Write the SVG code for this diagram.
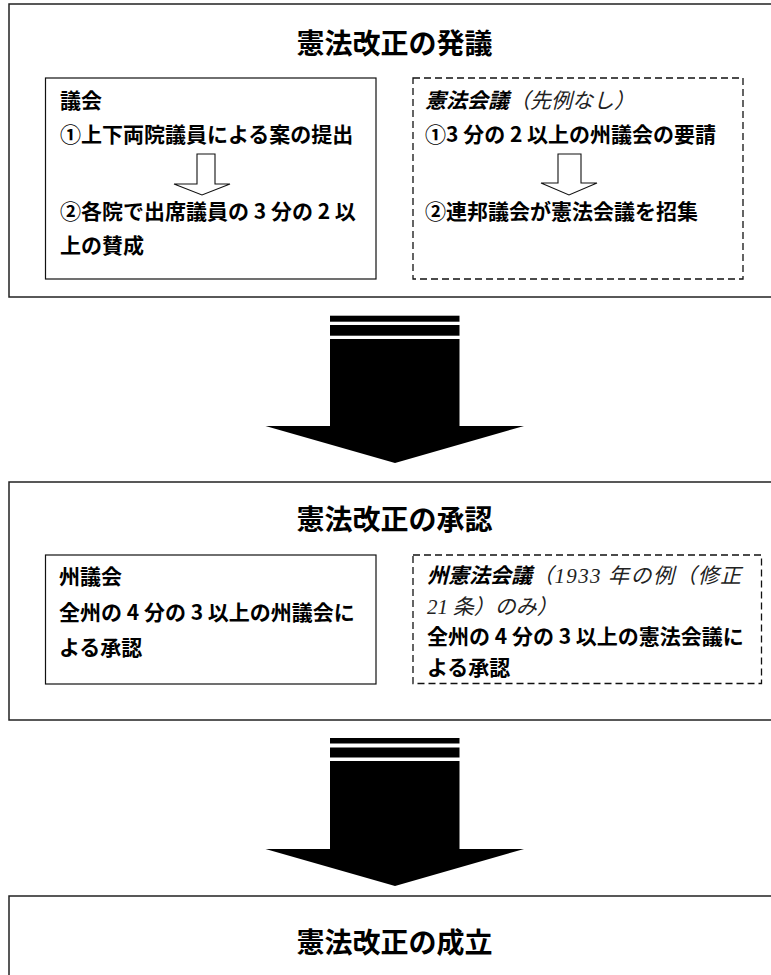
<svg xmlns="http://www.w3.org/2000/svg" width="771" height="975" viewBox="0 0 771 975">
<style>
.outer{fill:#fff;stroke:#222;stroke-width:1.5}
.inner{fill:#fff;stroke:#111;stroke-width:1.2}
.dash{fill:#fff;stroke:#111;stroke-width:1.3;stroke-dasharray:7 4}
.title{font-family:"Noto Sans CJK JP","Noto Sans CJK SC",sans-serif;font-size:28px;font-weight:bold;fill:#000;text-anchor:middle}
.body{font-family:"Noto Sans CJK JP","Noto Sans CJK SC",sans-serif;font-size:21px;font-weight:bold;fill:#000}
.it{font-style:italic;font-weight:normal;fill:#222}
.serif{font-family:"Liberation Serif","Noto Sans CJK JP",serif}
.hollow{fill:#fff;stroke:#111;stroke-width:1.1}
.big{fill:#000}
</style>
<g id="box-propose">
<rect class="outer" x="9" y="4" width="790" height="293"/>
<text class="title" x="394.5" y="54">憲法改正の発議</text>
</g>
<g id="congress">
<rect class="inner" x="45.5" y="78" width="330.5" height="201"/>
<text class="body" x="60" y="108">議会</text>
<text class="body" x="60" y="141.5">①上下両院議員による案の提出</text>
<text class="body" x="60" y="219">②各院で出席議員の 3 分の 2 以</text>
<text class="body" x="60" y="253">上の賛成</text>
</g>
<g id="convention">
<rect class="dash" x="413" y="78" width="330" height="201"/>
<text class="body" x="425" y="108"><tspan font-style="italic">憲法会議</tspan><tspan class="it">（先例なし）</tspan></text>
<text class="body" x="425" y="141.5">①3 分の 2 以上の州議会の要請</text>
<text class="body" x="425" y="219">②連邦議会が憲法会議を招集</text>
</g>
<g id="box-ratify">
<rect class="outer" x="9" y="482" width="790" height="238"/>
<text class="title" x="394.5" y="530">憲法改正の承認</text>
</g>
<g id="state-legislatures">
<rect class="inner" x="45.5" y="555" width="330.5" height="129"/>
<text class="body" x="59" y="583.5">州議会</text>
<text class="body" x="59" y="620">全州の 4 分の 3 以上の州議会に</text>
<text class="body" x="59" y="655">よる承認</text>
</g>
<g id="state-conventions">
<rect class="dash" x="413" y="555" width="348.5" height="128.5"/>
<text class="body" x="427" y="583"><tspan font-style="italic">州憲法会議</tspan><tspan class="it" letter-spacing="1.4">（<tspan class="serif">1933</tspan> 年の例（修正</tspan></text>
<text class="body" x="427" y="613.5"><tspan class="it"><tspan class="serif">21</tspan> 条）のみ）</tspan></text>
<text class="body" x="427" y="644">全州の 4 分の 3 以上の憲法会議に</text>
<text class="body" x="427" y="674.5">よる承認</text>
</g>
<g id="box-enact">
<rect class="outer" x="9" y="896" width="790" height="100"/>
<text class="title" x="394.5" y="953">憲法改正の成立</text>
</g>
<g id="connectors">
<path class="hollow" d="M197 154 H215 V184 H230 L202 195 L174 184 H197 Z"/>
<path class="hollow" d="M558 154 H581 V183 H597 L569 195 L541 183 H558 Z"/>
<g id="big-arrow-1">
<rect class="big" x="330" y="315.7" width="129.5" height="6"/>
<rect class="big" x="330" y="325" width="129.5" height="10.7"/>
<path class="big" d="M330 339 H459.5 V426 H524 L395 463 L265.5 426 H330 Z"/>
</g>
<g id="big-arrow-2">
<rect class="big" x="330" y="738" width="129.5" height="5.5"/>
<rect class="big" x="330" y="747.5" width="129.5" height="10"/>
<path class="big" d="M330 761 H459.5 V849 H524 L395 886 L265.5 849 H330 Z"/>
</g>
</g>
</svg>
